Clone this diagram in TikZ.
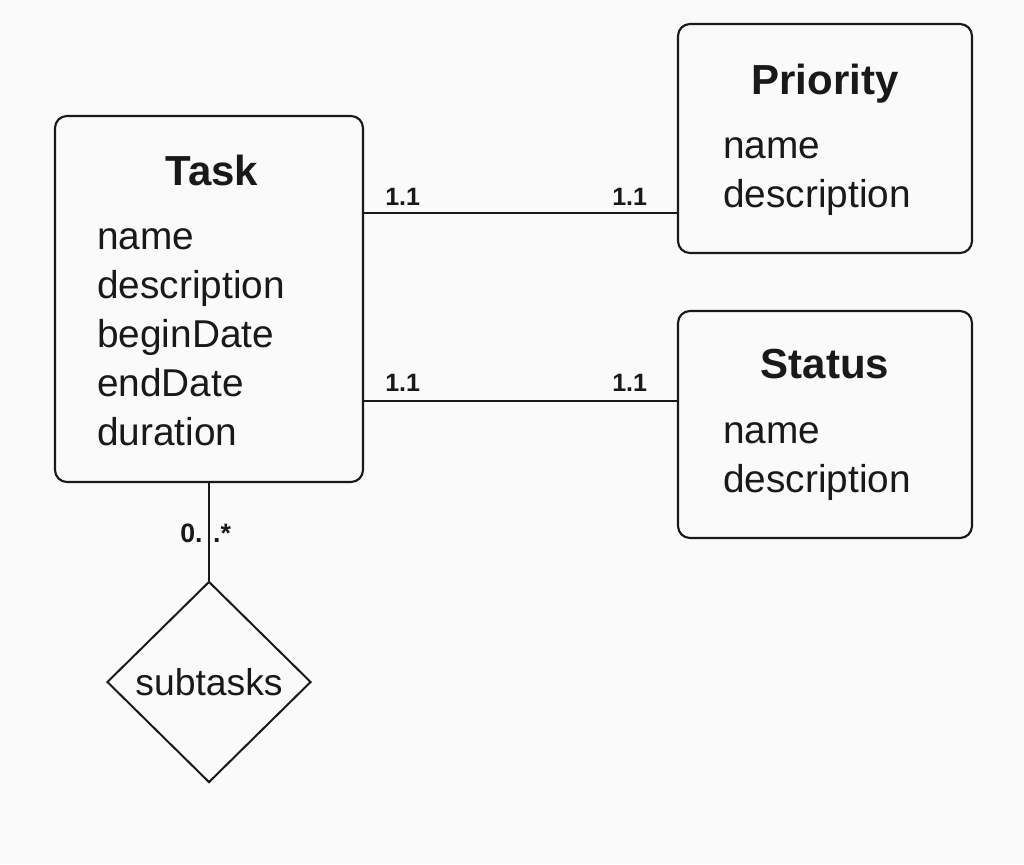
\documentclass[tikz,border=0pt]{standalone}
\usepackage{fontspec}
\setmainfont{Liberation Sans}
\usetikzlibrary{shapes.geometric}
\definecolor{bg}{RGB}{250,250,250}
\definecolor{ink}{RGB}{25,25,25}
\begin{document}
\begin{tikzpicture}[x=0.75pt,y=-0.75pt,
  entity/.style={draw=ink,line width=1.6pt,rounded corners=9pt,inner sep=0pt,fill=bg},
  title/.style={anchor=base,inner sep=0pt,text=ink,font=\fontsize{31.5}{36}\selectfont\bfseries},
  attr/.style={anchor=base west,inner sep=0pt,text=ink,font=\fontsize{29.1}{34}\selectfont},
  card/.style={anchor=base west,inner sep=0pt,text=ink,font=\fontsize{18.8}{22}\selectfont\bfseries},
  link/.style={draw=ink,line width=1.5pt}]
\useasboundingbox[fill=bg] (0,0) rectangle (1024,864);
% entities
\node[entity,minimum width=231pt,minimum height=274.5pt] (task) at (209,299) {};
\node[entity,minimum width=220.5pt,minimum height=171.75pt] (prio) at (825,138.5) {};
\node[entity,minimum width=220.5pt,minimum height=170.25pt] (stat) at (825,424.5) {};
\node[draw=ink,line width=1.5pt,shape=diamond,inner sep=0pt,minimum width=153pt,minimum height=150.75pt,text=ink,font=\fontsize{28}{32}\selectfont] (sub) at (209,682) {subtasks};
% titles
\node[title] (taskT) at (212,185) {Task};
\node[title] (prioT) at (825,94) {Priority};
\node[title] (statT) at (825,378) {Status};
% attributes
\node[attr] (t1) at (97,249) {name};
\node[attr] (t2) at (97,298) {description};
\node[attr] (t3) at (97,347) {beginDate};
\node[attr] (t4) at (97,396) {endDate};
\node[attr] (t5) at (97,445) {duration};
\node[attr] (p1) at (723,158) {name};
\node[attr] (p2) at (723,207) {description};
\node[attr] (s1) at (723,443) {name};
\node[attr] (s2) at (723,492) {description};
% connectors
\draw[link] (task.east |- 0,213) -- (prio.west |- 0,213);
\draw[link] (task.east |- 0,401) -- (stat.west |- 0,401);
\draw[link] (task.south) -- (sub.north);
% cardinalities
\node[card] (c1) at (385,205) {1.1};
\node[card] (c2) at (612,205) {1.1};
\node[card] (c3) at (385,391) {1.1};
\node[card] (c4) at (612,391) {1.1};
\node[card,font=\fontsize{20}{24}\selectfont\bfseries] (c5) at (180,542) {0.\hspace{8pt}.*};
\end{tikzpicture}
\end{document}
